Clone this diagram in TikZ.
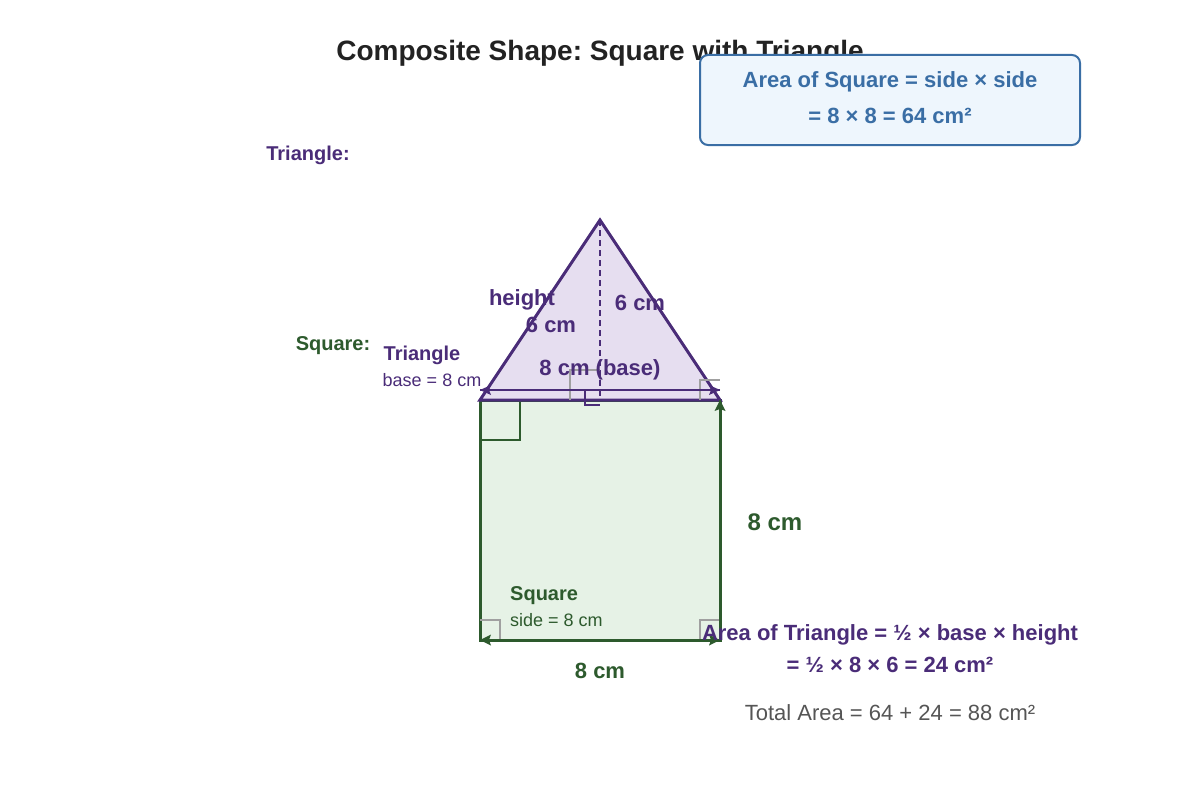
\documentclass[tikz,border=0pt]{standalone}
\usepackage{fontspec}
\setmainfont{Liberation Sans}
\definecolor{tpurple}{HTML}{4A2C78}
\definecolor{tfill}{HTML}{E6DEF0}
\definecolor{sgreen}{HTML}{2D5A2D}
\definecolor{sfill}{HTML}{E6F2E6}
\definecolor{bblue}{HTML}{3A6EA5}
\definecolor{bfill}{HTML}{EEF6FD}
\definecolor{titlec}{HTML}{222222}
\definecolor{graytxt}{HTML}{555555}
\definecolor{marker}{HTML}{A0A0A0}
\tikzset{
  lbl/.style={inner sep=0pt, anchor=base},
  lblw/.style={inner sep=0pt, anchor=base west},
  graymark/.style={draw=marker, line width=1.5pt},
}
\newcommand{\fs}[1]{\fontsize{#1}{#1}\selectfont}
\begin{document}
\frenchspacing
\begin{tikzpicture}[x=1pt,y=-1pt]
\useasboundingbox (0,0) rectangle (1200,800);
% square
\coordinate (SA) at (480,400);
\coordinate (SB) at (720,400);
\coordinate (SC) at (720,640);
\coordinate (SD) at (480,640);
\coordinate (TA) at (600,220);
\coordinate (TF) at (600,400);
\filldraw[fill=sfill, draw=sgreen, line width=3pt] (SA) -- (SB) -- (SC) -- (SD) -- cycle;
\draw[sgreen, line width=2pt] (480,440) -- (520,440) -- (520,400);
% triangle
\filldraw[fill=tfill, draw=tpurple, line width=3pt, line join=miter] (SA) -- (TA) -- (SB) -- cycle;
\draw[tpurple, line width=2pt, dash pattern=on 6pt off 4pt] (TA) -- (TF);
% gray markers
\draw[graymark] (570,400) -- (570,370) -- (600,370);
\draw[graymark] (700,400) -- (700,380) -- (720,380);
\draw[graymark] (480,620) -- (500,620) -- (500,640);
\draw[graymark] (700,640) -- (700,620) -- (720,620);
% foot right angle
\draw[tpurple, line width=1.5pt] (585,390) -- (585,405) -- (600,405);
% dimension lines
\coordinate (B1) at (480,390);
\coordinate (B2) at (720,390);
\draw[tpurple, line width=2.5pt] (B1) -- (B2);
\fill[tpurple] (B1) -- (491,385) -- (489,390) -- (491,395) -- cycle;
\fill[tpurple] (B2) -- (709,385) -- (711,390) -- (709,395) -- cycle;
\draw[sgreen, line width=2.5pt] (SD) -- (SC);
\draw[sgreen, line width=2.5pt] (SC) -- (SB);
\fill[sgreen] (SD) -- (491,634.5) -- (489,640) -- (491,645.5) -- cycle;
\fill[sgreen] (SC) -- (709,634.5) -- (711,640) -- (709,645.5) -- cycle;
\fill[sgreen] (SB) -- (714.5,411) -- (720,409) -- (725.5,411) -- cycle;
% title
\node[lbl, text=titlec] (title) at (600,61) {\fs{28}\bfseries Composite Shape: Square with Triangle};
% square area box
\node[draw=bblue, fill=bfill, line width=2pt, rounded corners=8pt, minimum width=380pt, minimum height=90pt, inner sep=0pt] (box) at (890,100) {};
\node[lbl, text=bblue] (box1) at (890,88) {\fs{22}\bfseries Area of Square = side × side};
\node[lbl, text=bblue] (box2) at (890,123) {\fs{22}\bfseries = 8 × 8 = 64 cm²};
% labels
\node[lbl, text=tpurple] (tlab) at (308,160) {\fs{20}\bfseries Triangle:};
\node[lbl, text=sgreen] (slab) at (333,350) {\fs{20}\bfseries Square:};
\node[lbl, text=tpurple] (tname) at (422,360) {\fs{20}\bfseries Triangle};
\node[lbl, text=tpurple] (tbase) at (432,386) {\fs{18}base = 8 cm};
\node[lbl, text=tpurple] (hgt) at (522,305) {\fs{22}\bfseries height};
\node[lbl, text=tpurple] (hgt2) at (551,332) {\fs{22}\bfseries 6 cm};
\node[lbl, text=tpurple] (h6) at (640,310) {\fs{22}\bfseries 6 cm};
\node[lbl, text=tpurple] (b8) at (600,375) {\fs{22}\bfseries 8 cm (base)};
\node[lbl, text=sgreen] (r8) at (775,530) {\fs{24}\bfseries 8 cm};
\node[lblw, text=sgreen] (sname) at (510,600) {\fs{20}\bfseries Square};
\node[lblw, text=sgreen] (sside) at (510,626) {\fs{18}side = 8 cm};
\node[lbl, text=sgreen] (bot8) at (600,678) {\fs{22}\bfseries 8 cm};
\node[lbl, text=tpurple] (ta1) at (890,640) {\fs{22}\bfseries Area of Triangle = ½ × base × height};
\node[lbl, text=tpurple] (ta2) at (890,672) {\fs{22}\bfseries = ½ × 8 × 6 = 24 cm²};
\node[lbl, text=graytxt] (tot) at (890,720) {\fs{22}Total Area = 64 + 24 = 88 cm²};
\end{tikzpicture}
\end{document}
